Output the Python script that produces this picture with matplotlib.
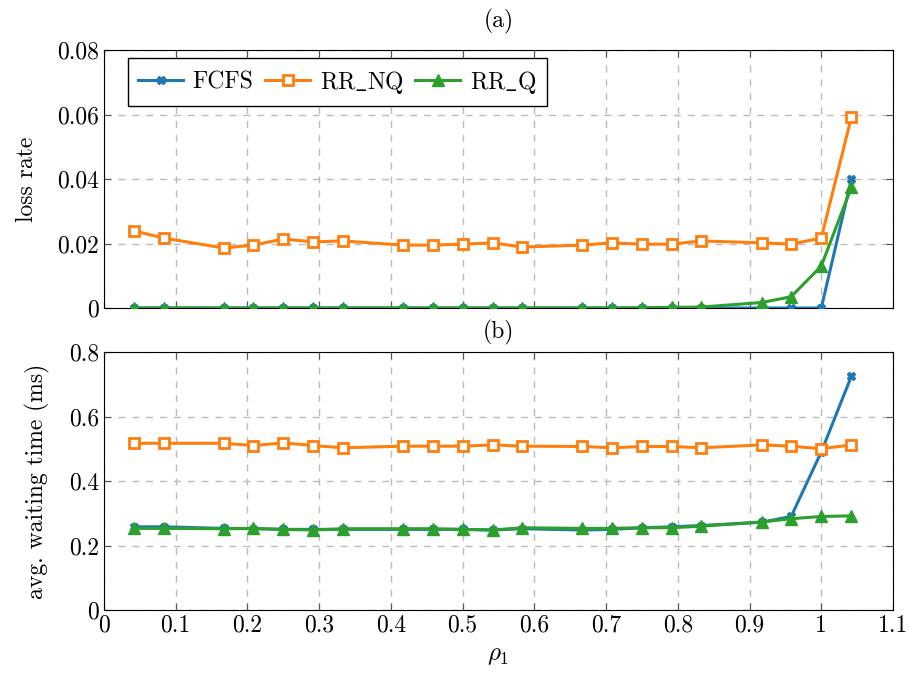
import matplotlib
matplotlib.use("Agg")
import matplotlib.pyplot as plt

plt.rcParams["font.family"] = ["cmr10", "DejaVu Serif"]
plt.rcParams["mathtext.fontset"] = "cm"
plt.rcParams["axes.formatter.use_mathtext"] = True

# data
rho = [0.042, 0.083, 0.167, 0.208, 0.25, 0.292, 0.333, 0.417, 0.458, 0.5,
       0.542, 0.583, 0.667, 0.708, 0.75, 0.792, 0.833, 0.917, 0.958, 1.0, 1.042]

loss_fcfs = [0, 0, 0, 0, 0, 0, 0, 0, 0, 0,
             0, 0, 0, 0, 0, 0, 0, 0, 0, 0, 0.040]
loss_rr_nq = [0.0239, 0.0217, 0.0186, 0.0195, 0.0214, 0.0205, 0.0208, 0.0195, 0.0195, 0.0198,
              0.0202, 0.0189, 0.0195, 0.0202, 0.0198, 0.0198, 0.0208, 0.0202, 0.0198, 0.0217, 0.0592]
loss_rr_q = [0, 0, 0, 0, 0, 0, 0, 0, 0, 0,
             0, 0, 0, 0, 0.0001, 0.0002, 0.0003, 0.0017, 0.0035, 0.013, 0.0375]

wait_fcfs = [0.258, 0.258, 0.253, 0.252, 0.25, 0.25, 0.25, 0.25, 0.25, 0.25,
             0.248, 0.252, 0.248, 0.25, 0.255, 0.258, 0.262, 0.272, 0.29, 0.49, 0.725]
wait_rr_nq = [0.517, 0.517, 0.517, 0.51, 0.518, 0.51, 0.503, 0.508, 0.508, 0.508,
              0.512, 0.508, 0.507, 0.503, 0.507, 0.507, 0.503, 0.512, 0.508, 0.50, 0.512]
wait_rr_q = [0.253, 0.253, 0.252, 0.253, 0.25, 0.248, 0.252, 0.252, 0.252, 0.25,
             0.248, 0.255, 0.253, 0.253, 0.255, 0.255, 0.26, 0.273, 0.283, 0.29, 0.292]

labels = [r"FCFS", r"RR$\_$NQ", r"RR$\_$Q"]
colors = ["#1f77b4", "#ff7f0e", "#2ca02c"]
FS = 17

fig = plt.figure(figsize=(9.09, 6.75), dpi=100)
ax1 = fig.add_axes([104 / 909, 1 - 308 / 675, 789 / 909, 258 / 675])
ax2 = fig.add_axes([104 / 909, 1 - 610 / 675, 789 / 909, 258 / 675])


def draw(ax, series):
    fc, nq, q = series
    ax.plot(rho, fc, color=colors[0], lw=2.2, marker="X", ms=6, label=labels[0], zorder=3)
    ax.plot(rho, nq, color=colors[1], lw=2.2, marker="s", ms=7, mfc="white",
            mew=2, label=labels[1], zorder=3)
    ax.plot(rho, q, color=colors[2], lw=2.2, marker="^", ms=8, label=labels[2], zorder=3)
    ax.set_xlim(0, 1.1)
    ax.set_xticks([0, 0.1, 0.2, 0.3, 0.4, 0.5, 0.6, 0.7, 0.8, 0.9, 1.0, 1.1])
    ax.grid(True, ls=(0, (5, 5)), color="#bbbbbb", lw=1)
    ax.tick_params(direction="in", top=True, right=True, labelsize=FS,
                   color="#555555", length=5)
    ax.set_axisbelow(True)


draw(ax1, (loss_fcfs, loss_rr_nq, loss_rr_q))
ax1.set_ylim(0, 0.08)
ax1.set_yticks([0, 0.02, 0.04, 0.06, 0.08])
ax1.set_yticklabels(["0", "0.02", "0.04", "0.06", "0.08"])
ax1.tick_params(labelbottom=False)
ax1.set_ylabel("loss rate", fontsize=FS, labelpad=14)
ax1.set_title("(a)", fontsize=FS, pad=16)
leg = ax1.legend(loc="upper left", ncol=3, fontsize=FS, frameon=True, fancybox=False,
                 edgecolor="black", framealpha=1, handlelength=1.9,
                 columnspacing=0.5, handletextpad=0.4, borderpad=0.45,
                 borderaxespad=0, bbox_to_anchor=(0.030, 0.969))
leg.get_frame().set_linewidth(1)

draw(ax2, (wait_fcfs, wait_rr_nq, wait_rr_q))
ax2.set_ylim(0, 0.8)
ax2.set_yticks([0, 0.2, 0.4, 0.6, 0.8])
ax2.set_yticklabels(["0", "0.2", "0.4", "0.6", "0.8"])
ax2.set_xticklabels(["0", "0.1", "0.2", "0.3", "0.4", "0.5", "0.6", "0.7", "0.8",
                     "0.9", "1", "1.1"])
ax2.set_ylabel("avg. waiting time (ms)", fontsize=FS, labelpad=14)
ax2.set_xlabel(r"$\rho_1$", fontsize=FS + 1, labelpad=6)
ax2.set_title("(b)", fontsize=FS, pad=10)

fig.savefig("out.png", dpi=100)
